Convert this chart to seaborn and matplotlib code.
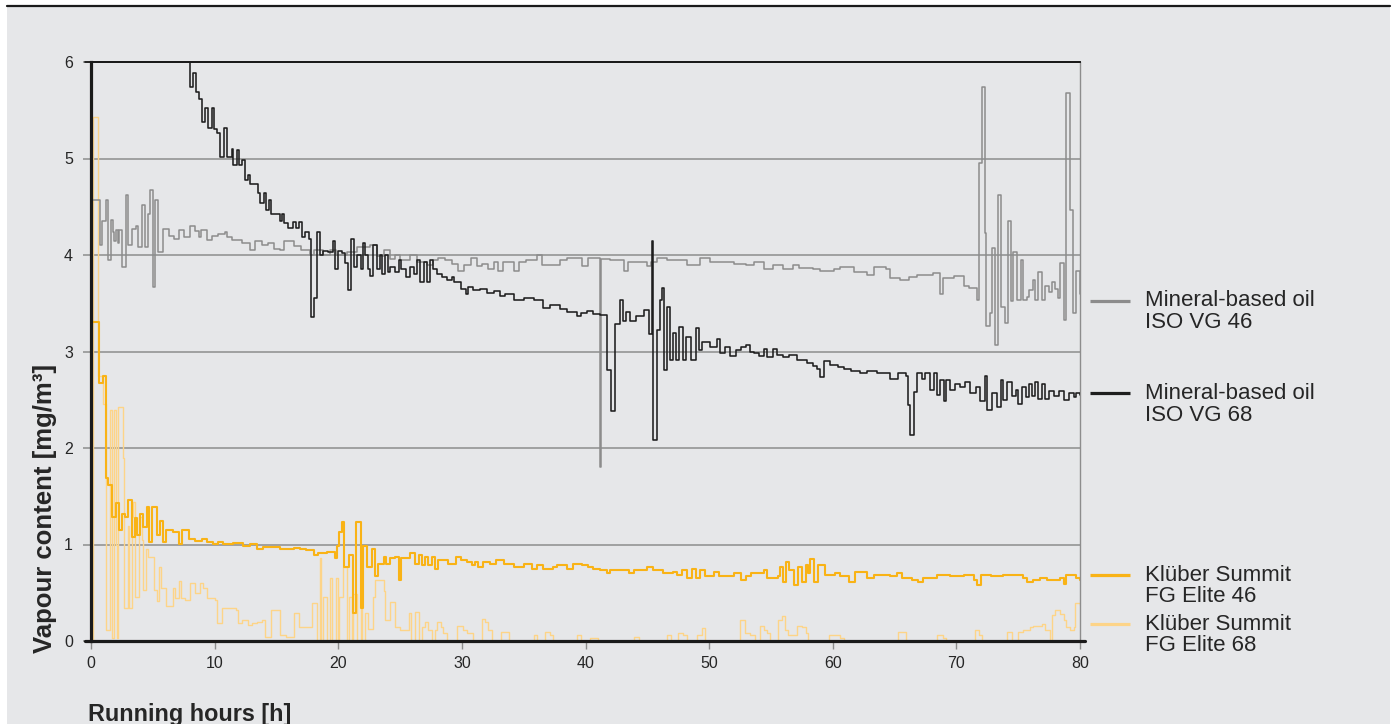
import matplotlib
matplotlib.use("Agg")
import matplotlib.pyplot as plt
import seaborn as sns
from matplotlib.lines import Line2D
from matplotlib.patches import Rectangle

# ---------------- data (hours, vapour content mg/m3) ----------------
vg46_points = [
    (0.0, 4.57), (0.7, 4.10), (0.9, 4.35), (1.2, 4.57), (1.4, 3.95), (1.65, 4.36), (1.8, 4.24), (1.9, 4.14),
    (2.0, 4.26), (2.2, 4.12), (2.3, 4.26), (2.5, 3.88), (2.8, 4.62), (3.0, 4.10), (3.3, 4.27), (3.6, 4.30),
    (3.8, 4.08), (4.1, 4.52), (4.4, 4.08), (4.6, 4.43), (4.8, 4.67), (5.0, 3.67), (5.2, 4.57), (5.4, 4.03),
    (5.8, 4.27), (6.3, 4.20), (6.7, 4.17), (7.1, 4.26), (7.5, 4.19), (8.0, 4.30), (8.4, 4.25), (8.7, 4.19),
    (8.9, 4.26), (9.4, 4.16), (9.8, 4.20), (10.3, 4.22), (10.8, 4.24), (11.0, 4.19), (11.4, 4.16), (12.2, 4.12),
    (12.9, 4.05), (13.3, 4.14), (13.8, 4.10), (14.3, 4.12), (14.8, 4.06), (15.3, 4.05), (15.6, 4.14), (16.4, 4.09),
    (17.0, 4.05), (17.7, 4.00), (18.0, 4.05), (18.8, 4.00), (19.3, 4.05), (19.8, 4.00), (20.7, 4.03), (21.5, 4.08),
    (22.6, 4.10), (23.1, 3.99), (23.7, 4.05), (24.2, 3.96), (24.6, 4.00), (25.0, 3.95), (25.8, 4.00), (26.4, 3.93),
    (27.2, 3.90), (27.7, 3.95), (28.1, 3.97), (28.6, 3.95), (29.2, 3.91), (29.7, 3.83), (30.2, 3.90), (30.7, 3.97),
    (31.2, 3.89), (31.6, 3.91), (32.1, 3.86), (32.6, 3.93), (32.9, 3.83), (33.3, 3.93), (34.2, 3.83), (34.6, 3.93),
    (35.2, 3.95), (36.1, 4.00), (36.5, 3.90), (37.9, 3.95), (38.5, 3.97), (39.7, 3.89), (40.2, 3.97), (41.15, 1.80),
    (41.25, 3.96), (42.0, 3.95), (43.1, 3.83), (43.4, 3.93), (45.0, 3.89), (45.3, 3.93), (45.8, 3.97), (46.6, 3.95),
    (47.9, 3.95), (48.2, 3.90), (49.3, 3.97), (50.1, 3.93), (50.9, 3.93), (52.0, 3.91), (53.0, 3.90), (53.6, 3.93),
    (54.4, 3.86), (55.2, 3.90), (56.0, 3.86), (56.8, 3.90), (57.3, 3.87), (58.4, 3.86), (59.0, 3.83), (60.1, 3.86),
    (60.6, 3.88), (61.7, 3.82), (62.8, 3.79), (63.3, 3.88), (64.3, 3.85), (64.6, 3.76), (65.4, 3.74), (66.2, 3.77),
    (66.8, 3.79), (68.1, 3.81), (68.7, 3.60), (68.9, 3.76), (69.8, 3.78), (70.6, 3.68), (71.0, 3.66), (71.7, 3.53),
    (71.8, 4.95), (72.1, 5.74), (72.3, 4.23), (72.4, 3.26), (72.7, 3.40), (72.9, 4.07), (73.1, 3.07), (73.4, 4.62),
    (73.6, 3.46), (73.9, 3.30), (74.2, 4.35), (74.4, 3.52), (74.6, 4.03), (74.9, 3.53), (75.2, 3.95), (75.4, 3.53),
    (75.7, 3.56), (75.9, 3.64), (76.2, 3.74), (76.4, 3.53), (76.6, 3.82), (76.9, 3.53), (77.2, 3.68), (77.5, 3.62),
    (77.7, 3.72), (78.0, 3.65), (78.2, 3.55), (78.4, 3.92), (78.7, 3.33), (78.9, 5.68), (79.2, 4.47), (79.4, 3.40),
    (79.7, 3.83), (80.0, 3.60),
]

vg68_points = [
    (7.0, 6.50), (8.0, 5.74), (8.28, 5.89), (8.47, 5.69), (8.77, 5.62), (8.95, 5.38), (9.2, 5.52), (9.5, 5.32),
    (9.76, 5.52), (9.95, 5.31), (10.17, 5.26), (10.44, 5.02), (10.76, 5.32), (10.98, 5.02), (11.38, 5.10),
    (11.5, 4.93), (11.8, 5.09), (12.0, 4.93), (12.2, 4.98), (12.46, 4.78), (12.7, 4.83), (12.9, 4.74),
    (13.5, 4.64), (13.67, 4.54), (14.0, 4.64), (14.16, 4.47), (14.4, 4.57), (14.6, 4.43), (15.3, 4.35),
    (15.45, 4.43), (15.6, 4.33), (15.96, 4.28), (16.3, 4.34), (16.6, 4.28), (16.8, 4.34), (17.1, 4.19),
    (17.35, 4.24), (17.6, 4.17), (17.8, 3.36), (18.05, 3.55), (18.25, 4.24), (18.5, 4.00), (18.8, 4.04),
    (19.2, 4.03), (19.55, 4.15), (19.7, 3.86), (20.0, 4.04), (20.3, 4.02), (20.55, 3.92), (20.8, 3.64),
    (21.0, 4.17), (21.25, 3.88), (21.55, 4.00), (21.8, 3.86), (22.0, 4.12), (22.2, 4.00), (22.4, 3.86),
    (22.6, 3.78), (22.8, 4.10), (23.1, 3.86), (23.35, 4.00), (23.5, 3.80), (23.8, 4.00), (24.0, 3.82),
    (24.2, 3.88), (24.6, 3.82), (24.9, 3.95), (25.1, 3.85), (25.5, 3.77), (25.8, 3.88), (26.1, 3.80),
    (26.35, 3.95), (26.6, 3.72), (26.9, 3.93), (27.2, 3.72), (27.45, 3.95), (27.7, 3.86), (28.0, 3.80),
    (28.4, 3.77), (28.8, 3.74), (29.2, 3.77), (29.4, 3.72), (29.9, 3.65), (30.3, 3.60), (30.5, 3.67),
    (30.9, 3.64), (31.5, 3.65), (32.0, 3.61), (32.6, 3.63), (33.1, 3.57), (33.5, 3.60), (34.2, 3.53),
    (35.0, 3.55), (35.8, 3.53), (36.6, 3.45), (37.1, 3.48), (37.9, 3.44), (38.5, 3.41), (39.3, 3.37),
    (39.6, 3.40), (40.1, 3.42), (40.6, 3.39), (41.2, 3.38), (41.7, 2.81), (42.1, 2.38), (42.4, 3.29),
    (42.8, 3.53), (43.0, 3.32), (43.3, 3.41), (43.6, 3.32), (44.1, 3.37), (44.7, 3.43), (45.1, 3.18),
    (45.35, 4.14), (45.5, 2.08), (45.8, 3.22), (46.0, 3.53), (46.15, 3.66), (46.35, 2.81), (46.6, 3.46),
    (46.8, 2.91), (47.1, 3.19), (47.3, 2.91), (47.6, 3.25), (47.9, 2.91), (48.1, 3.15), (48.5, 2.91),
    (48.9, 3.24), (49.2, 3.02), (49.4, 3.10), (50.1, 3.05), (50.6, 3.13), (50.9, 2.98), (51.3, 3.05),
    (51.7, 2.95), (52.2, 3.02), (52.6, 3.05), (53.0, 3.07), (53.3, 3.00), (53.6, 2.98), (54.0, 2.95),
    (54.4, 3.03), (54.7, 2.94), (55.2, 3.03), (55.5, 2.96), (56.0, 2.94), (56.5, 2.96), (57.1, 2.91),
    (57.9, 2.88), (58.4, 2.85), (58.7, 2.82), (59.0, 2.74), (59.3, 2.90), (59.8, 2.86), (60.4, 2.84),
    (60.9, 2.82), (61.5, 2.80), (62.2, 2.78), (62.8, 2.80), (63.6, 2.78), (64.6, 2.71), (65.3, 2.78),
    (65.9, 2.75), (66.05, 2.45), (66.25, 2.13), (66.55, 2.58), (66.8, 2.78), (67.2, 2.71), (67.5, 2.78),
    (67.9, 2.60), (68.2, 2.78), (68.45, 2.55), (68.7, 2.70), (68.96, 2.49), (69.2, 2.70), (69.5, 2.60),
    (69.9, 2.66), (70.3, 2.63), (70.7, 2.68), (71.1, 2.57), (71.6, 2.63), (71.9, 2.49), (72.3, 2.75),
    (72.5, 2.39), (72.9, 2.57), (73.3, 2.42), (73.6, 2.70), (73.8, 2.50), (74.1, 2.68), (74.5, 2.54),
    (74.8, 2.60), (75.0, 2.46), (75.3, 2.63), (75.6, 2.53), (75.9, 2.66), (76.1, 2.54), (76.4, 2.68),
    (76.6, 2.51), (76.9, 2.66), (77.2, 2.51), (77.5, 2.59), (77.9, 2.54), (78.3, 2.59), (78.7, 2.50),
    (79.1, 2.57), (79.5, 2.53), (79.7, 2.57), (80.0, 2.55),
]

elite46_points = [
    (0.0, 3.31), (0.68, 2.67), (0.94, 2.75), (1.2, 1.69), (1.4, 1.62), (1.67, 1.29), (2.0, 1.43), (2.3, 1.15),
    (2.5, 1.32), (2.75, 1.29), (2.97, 1.46), (3.29, 1.08), (3.56, 1.27), (3.7, 1.10), (3.96, 1.32), (4.2, 1.18),
    (4.5, 1.39), (4.7, 1.03), (4.9, 1.39), (5.3, 1.10), (5.6, 1.24), (5.8, 1.03), (6.1, 1.15), (6.65, 1.13),
    (7.1, 1.01), (7.35, 1.15), (7.9, 1.06), (8.4, 1.04), (9.0, 1.06), (9.4, 1.03), (9.9, 1.01), (10.3, 1.03),
    (10.7, 1.01), (11.5, 1.02), (12.3, 0.98), (12.9, 1.01), (13.4, 0.95), (13.9, 0.97), (14.8, 0.97),
    (15.3, 0.95), (16.4, 0.96), (16.9, 0.95), (17.4, 0.94), (18.0, 0.89), (18.4, 0.91), (19.1, 0.92),
    (19.7, 0.86), (19.9, 0.98), (20.1, 1.13), (20.3, 1.23), (20.5, 0.77), (20.9, 0.89), (21.2, 0.29),
    (21.4, 1.23), (21.8, 0.34), (22.0, 0.98), (22.3, 0.77), (22.7, 0.95), (22.98, 0.67), (23.2, 0.80),
    (23.7, 0.87), (23.9, 0.80), (24.2, 0.86), (24.6, 0.87), (24.9, 0.63), (25.1, 0.86), (25.4, 0.86),
    (25.8, 0.91), (26.2, 0.80), (26.5, 0.89), (26.75, 0.79), (27.0, 0.87), (27.3, 0.79), (27.6, 0.87),
    (27.8, 0.75), (28.1, 0.84), (28.9, 0.80), (29.5, 0.87), (29.9, 0.84), (30.4, 0.82), (30.8, 0.79),
    (31.1, 0.82), (31.3, 0.77), (31.7, 0.82), (32.3, 0.80), (32.8, 0.84), (33.4, 0.80), (34.2, 0.77),
    (35.0, 0.80), (35.7, 0.75), (36.1, 0.79), (36.6, 0.75), (37.4, 0.77), (37.7, 0.79), (38.5, 0.75),
    (39.0, 0.80), (39.7, 0.79), (40.2, 0.77), (40.6, 0.75), (41.2, 0.74), (41.7, 0.70), (42.0, 0.74),
    (42.8, 0.74), (43.5, 0.70), (43.9, 0.74), (45.0, 0.77), (45.5, 0.74), (46.3, 0.70), (47.1, 0.72),
    (47.4, 0.68), (47.8, 0.74), (48.2, 0.65), (48.6, 0.75), (48.9, 0.65), (49.3, 0.74), (49.7, 0.67),
    (50.4, 0.72), (50.8, 0.67), (51.6, 0.67), (52.0, 0.70), (52.6, 0.63), (53.0, 0.67), (53.4, 0.70),
    (54.4, 0.74), (54.7, 0.65), (55.6, 0.67), (55.7, 0.77), (56.0, 0.61), (56.2, 0.82), (56.5, 0.74),
    (56.9, 0.58), (57.2, 0.77), (57.5, 0.61), (57.8, 0.79), (58.0, 0.70), (58.2, 0.85), (58.5, 0.61),
    (58.8, 0.79), (59.4, 0.68), (60.2, 0.70), (60.6, 0.67), (61.3, 0.61), (61.8, 0.72), (62.8, 0.65),
    (63.3, 0.68), (64.6, 0.67), (65.2, 0.70), (65.6, 0.65), (66.4, 0.63), (66.9, 0.61), (67.3, 0.65),
    (68.4, 0.68), (69.5, 0.67), (70.6, 0.68), (71.4, 0.63), (71.7, 0.58), (72.0, 0.68), (72.8, 0.67),
    (73.8, 0.68), (74.9, 0.68), (75.4, 0.65), (75.7, 0.61), (76.2, 0.63), (76.8, 0.65), (77.3, 0.63),
    (78.4, 0.65), (78.7, 0.59), (78.9, 0.68), (79.7, 0.65), (80.0, 0.63),
]

elite68_points = [
    (0.0, 0.0), (0.15, 5.43), (0.6, 2.75), (1.0, 2.46), (1.25, 0.11), (1.55, 2.39), (1.7, 0.03), (1.9, 2.39),
    (2.0, 1.00), (2.1, 0.03), (2.2, 2.42), (2.6, 1.90), (2.7, 0.34), (3.0, 1.19), (3.1, 0.34), (3.3, 1.29),
    (3.4, 1.44), (3.56, 0.46), (3.9, 1.29), (4.1, 1.05), (4.2, 0.53), (4.45, 0.95), (4.6, 0.87), (4.8, 0.87),
    (5.1, 0.53), (5.3, 0.41), (5.5, 0.77), (5.7, 0.55), (6.1, 0.36), (6.6, 0.55), (6.8, 0.45), (7.1, 0.62),
    (7.3, 0.45), (7.6, 0.43), (8.0, 0.60), (8.4, 0.50), (8.8, 0.60), (9.1, 0.55), (9.4, 0.45), (10.0, 0.43),
    (10.2, 0.19), (10.6, 0.34), (11.7, 0.32), (11.9, 0.19), (12.2, 0.22), (12.7, 0.17), (13.0, 0.19),
    (13.4, 0.20), (13.8, 0.22), (14.1, 0.04), (14.6, 0.32), (15.3, 0.06), (15.8, 0.04), (16.4, 0.29),
    (16.8, 0.15), (17.9, 0.39), (18.3, 0.0), (18.5, 0.86), (18.6, 0.0), (18.8, 0.46), (19.1, 0.0),
    (19.3, 0.65), (19.5, 0.0), (19.8, 0.65), (20.0, 0.0), (20.1, 0.46), (20.4, 0.77), (20.7, 0.0),
    (20.9, 0.46), (21.1, 0.0), (21.2, 0.49), (21.5, 0.0), (21.8, 0.40), (21.95, 0.0), (22.2, 0.29),
    (22.4, 0.12), (22.8, 0.46), (22.98, 0.63), (23.7, 0.52), (23.8, 0.22), (24.2, 0.40), (24.6, 0.15),
    (25.0, 0.11), (25.7, 0.29), (25.9, 0.0), (26.2, 0.30), (26.5, 0.0), (26.75, 0.14), (27.0, 0.20),
    (27.3, 0.11), (27.6, 0.0), (27.85, 0.11), (28.0, 0.20), (28.3, 0.14), (28.5, 0.08), (28.8, 0.0),
    (29.6, 0.16), (30.1, 0.11), (30.4, 0.08), (30.9, 0.0), (31.6, 0.23), (31.9, 0.20), (32.1, 0.11),
    (32.4, 0.0), (33.2, 0.09), (33.8, 0.0), (35.8, 0.06), (36.1, 0.0), (36.7, 0.09), (37.1, 0.06),
    (37.4, 0.0), (39.3, 0.06), (39.6, 0.0), (40.4, 0.03), (41.0, 0.0), (43.9, 0.04), (44.3, 0.0),
    (46.6, 0.06), (46.9, 0.0), (47.5, 0.08), (47.9, 0.06), (48.2, 0.0), (49.0, 0.06), (49.4, 0.13),
    (49.7, 0.0), (52.5, 0.22), (52.9, 0.08), (53.3, 0.06), (53.7, 0.0), (54.1, 0.16), (54.4, 0.11),
    (54.7, 0.08), (54.9, 0.0), (55.6, 0.22), (55.9, 0.26), (56.1, 0.11), (56.4, 0.06), (57.1, 0.16),
    (57.5, 0.14), (57.8, 0.08), (58.0, 0.0), (59.7, 0.06), (60.6, 0.03), (60.9, 0.0), (65.3, 0.09),
    (65.9, 0.0), (68.4, 0.06), (68.9, 0.03), (69.2, 0.0), (71.5, 0.11), (71.8, 0.06), (72.1, 0.0),
    (74.1, 0.09), (74.5, 0.0), (75.0, 0.09), (75.4, 0.11), (75.97, 0.14), (76.2, 0.16), (76.9, 0.18),
    (77.2, 0.11), (77.6, 0.0), (77.7, 0.27), (78.0, 0.32), (78.4, 0.28), (78.7, 0.22), (78.9, 0.14),
    (79.2, 0.11), (79.5, 0.14), (79.6, 0.39), (80.0, 0.37),
]

series_labels = ["Mineral-based oil\nISO VG 46", "Mineral-based oil\nISO VG 68",
                 "Klüber Summit\nFG Elite 46", "Klüber Summit\nFG Elite 68"]
series_colors = ["#8c8c8c", "#1e1e1e", "#f9b316", "#fdd488"]
x_ticks = [0, 10, 20, 30, 40, 50, 60, 70, 80]
y_ticks = [0, 1, 2, 3, 4, 5, 6]
x_label = "Running hours [h]"
y_label = "Vapour content [mg/m³]"

# ---------------- style ----------------
sns.set_style("white")
plt.rcParams['font.family'] = ['Liberation Sans', 'DejaVu Sans']

W, H = 1396, 724
BG = "#e6e7e9"
GRID = "#8d8d8d"
TXT = "#262626"

fig = plt.figure(figsize=(W / 100, H / 100), dpi=100, facecolor="white")
fig.add_artist(Rectangle((7 / W, 0), (1390 - 7) / W, (H - 7) / H, transform=fig.transFigure,
                         facecolor=BG, edgecolor="none", zorder=0))
fig.add_artist(Line2D([7 / W, 1390 / W], [(H - 5.5) / H] * 2, transform=fig.transFigure,
                      color="#1a1a1a", lw=1.6))

ax = fig.add_axes([91 / W, (H - 641) / H, (1080 - 91) / W, (641 - 62) / H])
ax.set_facecolor("none")

series = [vg46_points, vg68_points, elite46_points, elite68_points]
widths = [1.1, 1.15, 1.5, 1.0]
zorders = [3, 4, 2.5, 2]
for pts, col, lw, zo in zip(series, series_colors, widths, zorders):
    hrs = [p[0] for p in pts]
    val = [p[1] for p in pts]
    sns.lineplot(x=hrs, y=val, ax=ax, color=col, lw=lw, drawstyle="steps-post",
                 estimator=None, sort=False, zorder=zo)

ax.set_xlim(0, 80)
ax.set_ylim(0, 6)
ax.set_xticks(x_ticks)
ax.set_yticks(y_ticks)
ax.set_xlabel("")
ax.set_ylabel("")
ax.grid(False)
for yv in y_ticks[1:-1]:
    ax.axhline(yv, color=GRID, lw=1.1, zorder=1)

ax.tick_params(axis="x", direction="out", length=6, width=1.0, color=GRID, pad=5,
               labelsize=11.5, labelcolor=TXT, bottom=True)
ax.tick_params(axis="y", direction="out", length=6, width=1.1, color=GRID, pad=7,
               labelsize=11.5, labelcolor=TXT, left=True)

for s in ["left", "bottom", "top", "right"]:
    ax.spines[s].set_visible(True)
ax.spines["left"].set_color("#1a1a1a")
ax.spines["left"].set_linewidth(2.3)
ax.spines["left"].set_zorder(6)
ax.spines["top"].set_color("#1a1a1a")
ax.spines["top"].set_linewidth(1.3)
ax.spines["right"].set_color(GRID)
ax.spines["right"].set_linewidth(1.0)
ax.spines["bottom"].set_visible(False)
ax.axhline(0, xmin=-0.006, xmax=1.005, color="#1a1a1a", lw=2.3, clip_on=False, zorder=6)
ax.axhline(6, xmin=-0.006, xmax=1.0, color="#1a1a1a", lw=1.3, clip_on=False, zorder=6)

# legend drawn at the right
handle_y = [300.7, 393.3, 575.0, 624.0]
text_y = [311.5, 404.5, 586.0, 635.0]
for lab, col, hy, ty in zip(series_labels, series_colors, handle_y, text_y):
    fig.add_artist(Line2D([1090 / W, 1130 / W], [(H - hy) / H] * 2, transform=fig.transFigure,
                          color=col, lw=2.3, solid_capstyle="butt"))
    fig.text(1145 / W, (H - ty) / H, lab, ha="left", va="center", fontsize=16,
             color=TXT, linespacing=1.02)

fig.text(45 / W, (H - 653) / H, y_label, rotation=90, ha="center", va="bottom",
         fontsize=18.5, fontweight="bold", color=TXT)
fig.text(88 / W, (H - 721) / H, x_label, ha="left", va="baseline",
         fontsize=16.8, fontweight="bold", color=TXT)

fig.savefig("out.png", dpi=100, facecolor="white")
